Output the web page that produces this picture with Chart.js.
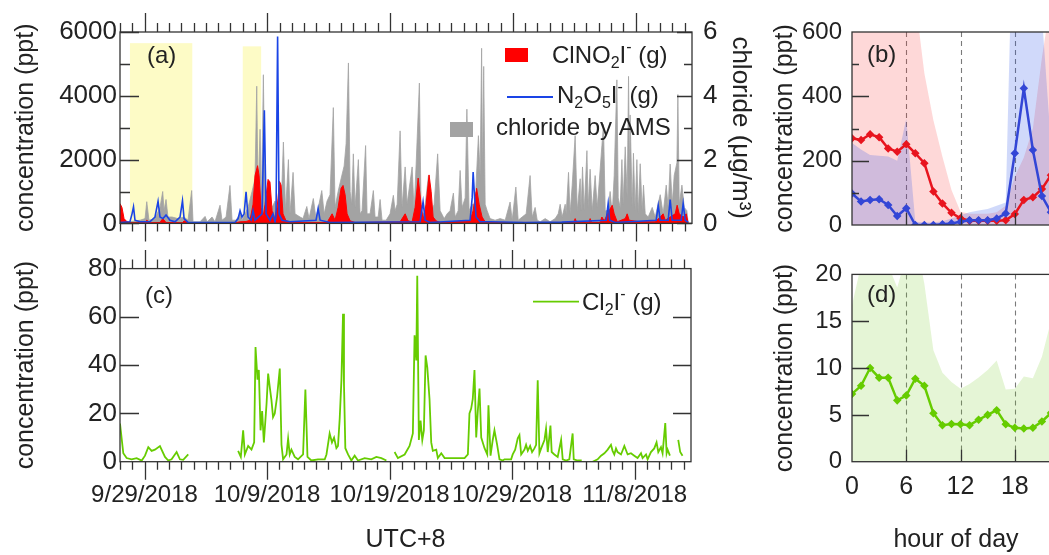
<!DOCTYPE html>
<html><head><meta charset="utf-8">
<script src="https://cdn.jsdelivr.net/npm/chart.js@4.4.1/dist/chart.umd.min.js"></script>
<style>
html,body{margin:0;padding:0;background:#fff;overflow:hidden;width:1049px;height:555px;position:relative}
canvas{position:absolute;display:block}
</style></head><body>
<canvas id="ca" width="760" height="250" style="left:0;top:0"></canvas>
<canvas id="cb" width="340" height="250" style="left:760px;top:0"></canvas>
<canvas id="cc" width="760" height="305" style="left:0;top:250px"></canvas>
<canvas id="cd" width="340" height="305" style="left:760px;top:250px"></canvas>
<script>
// ---------- DATA (x in days since 9/27/2018 00:00, UTC+8) ----------
const tickDays  = [2, 12, 22, 32, 42];
const tickDates = ['9/29/2018','10/9/2018','10/19/2018','10/29/2018','11/8/2018'];
const yellowStart = [0.81, 10.0];
const yellowEnd   = [5.89, 11.5];
const yellowTop   = [5650, 5550];

const chlorideDays = [0.00,0.81,1.63,2.04,2.18,2.36,2.85,3.26,3.48,3.59,3.75,3.91,4.24,4.73,5.22,5.54,5.84,5.95,6.52,6.93,7.10,7.50,7.74,8.15,8.31,8.64,8.96,9.13,9.45,9.78,9.94,10.43,10.76,11.00,11.14,11.25,11.41,11.53,11.68,11.82,12.06,12.39,12.63,12.88,13.12,13.31,13.49,13.72,13.85,14.10,14.26,14.67,14.91,15.22,15.40,15.75,15.97,16.44,16.63,16.87,17.11,17.38,17.52,17.77,18.01,18.26,18.42,18.61,18.75,18.87,19.01,19.15,19.42,19.56,19.72,20.01,20.13,20.37,20.64,20.78,21.03,21.19,21.35,21.68,22.00,22.27,22.41,22.58,22.82,22.98,23.23,23.39,23.63,23.80,23.96,24.12,24.39,24.53,24.78,25.13,25.35,25.59,25.88,26.08,26.41,26.65,26.89,27.16,27.30,27.55,27.71,27.87,28.12,28.26,28.44,28.69,28.93,29.20,29.34,29.46,29.54,29.63,29.75,29.91,30.15,30.56,30.97,31.38,31.78,31.95,32.25,32.44,32.76,33.09,33.41,33.58,33.82,33.99,34.23,34.64,35.04,35.45,35.70,35.86,36.02,36.27,36.35,36.54,36.67,36.84,37.08,37.25,37.49,37.57,37.68,37.82,38.04,38.14,38.30,38.47,38.71,38.88,39.04,39.26,39.39,39.53,39.77,39.93,40.10,40.26,40.48,40.59,40.75,40.89,40.99,41.16,41.32,41.43,41.52,41.56,41.73,41.83,41.97,42.11,42.22,42.38,42.54,42.65,42.79,43.03,43.36,43.60,44.01,44.25,44.50,44.66,44.82,44.99,45.15,45.37,45.45,45.56,45.78,45.97,46.18,46.29];
const chlorideVals = [0.10,0.05,0.10,0.15,0.68,0.10,0.15,0.50,1.00,0.40,0.75,0.20,0.20,0.15,0.20,0.10,1.03,0.05,0.05,0.22,0.05,0.20,0.05,0.57,0.10,0.20,1.19,0.10,0.10,0.30,0.10,0.50,1.00,1.40,4.30,0.80,2.95,0.70,4.66,0.50,0.30,0.50,0.70,0.30,0.40,2.55,0.40,2.00,0.30,1.60,0.30,0.20,0.15,0.53,0.15,0.78,0.15,1.03,0.30,0.70,0.90,3.63,0.50,1.00,1.40,1.80,2.50,5.03,1.00,0.60,2.18,0.50,2.00,0.30,0.40,2.44,0.30,0.30,1.03,0.20,0.20,0.75,0.10,0.10,0.30,0.88,0.40,0.60,2.90,0.50,1.77,0.60,1.30,1.77,0.40,1.80,4.40,0.40,0.30,1.50,0.30,0.60,2.18,0.40,0.15,0.30,0.40,0.95,0.20,0.40,1.66,0.50,0.80,3.58,0.40,0.60,0.60,2.75,1.50,5.49,1.50,4.92,0.60,0.40,0.15,0.10,0.15,0.10,0.67,0.10,1.14,0.10,0.20,0.30,1.50,0.20,0.50,0.10,0.05,0.15,0.05,0.15,0.30,0.60,0.20,0.60,0.30,1.60,0.30,1.20,2.75,0.40,1.40,0.40,1.77,0.40,2.28,0.50,1.70,0.40,1.50,0.50,1.30,2.44,3.10,0.40,0.40,1.00,0.30,1.50,4.50,0.80,0.50,2.00,0.60,2.40,0.80,4.61,1.40,3.40,0.50,2.20,0.40,2.00,0.30,1.87,0.40,1.20,0.30,0.20,0.50,0.20,0.90,0.30,1.20,0.50,1.86,0.60,1.50,1.90,4.04,0.60,1.20,0.50,0.40,0.00];

const clno2Days = [0.00,0.16,0.33,0.57,0.81,2.04,2.18,2.44,3.26,3.48,3.75,5.09,5.22,5.54,9.37,9.78,10.27,10.59,10.84,11.00,11.21,11.33,11.49,11.65,11.82,12.06,12.22,12.39,12.55,12.80,13.00,13.12,13.28,13.53,14.10,16.87,17.28,17.52,17.77,18.01,18.17,18.34,18.50,18.75,19.15,22.82,23.23,23.47,23.80,24.04,24.29,24.53,24.69,24.94,25.18,25.35,25.51,25.75,26.08,28.52,28.77,29.01,29.05,29.26,29.50,29.75,30.15,36.95,37.08,37.22,38.18,38.30,38.44,39.10,39.26,39.45,39.85,40.10,40.26,40.51,41.16,41.32,41.48,42.38,43.60,44.01,44.25,44.42,45.23,45.39,45.56,45.88,46.13,46.29];
const clno2Vals = [620,500,150,50,20,20,100,20,30,150,30,20,80,20,20,50,60,100,600,1500,1810,1500,500,200,600,1380,1300,400,100,500,1315,1200,300,80,30,30,300,100,500,1100,1190,900,300,80,30,50,300,80,50,500,1420,600,100,600,1520,1000,200,80,30,80,400,1000,1100,600,200,50,30,30,150,30,30,150,30,30,200,80,400,570,300,50,150,300,100,50,50,200,300,100,300,570,300,200,300,0];

const n2o5Days = [0.00,0.81,0.98,1.10,1.22,1.63,2.44,2.85,3.10,3.26,3.50,3.75,4.07,4.48,4.89,5.09,5.22,5.54,9.37,9.62,9.78,9.94,10.11,10.27,10.43,10.68,10.84,11.00,11.57,11.76,11.90,12.22,12.47,12.63,12.71,12.84,12.96,13.20,13.85,15.97,16.14,16.30,17.11,24.45,24.69,24.86,25.26,28.52,28.69,28.77,28.89,29.01,29.34,30.15,33.00,36.00,39.61,39.77,39.89,40.34,43.68,43.85,44.01,44.66,44.82,44.99,45.72,45.88,46.05,46.29];
const n2o5Vals = [30,50,300,520,100,50,50,200,690,200,150,260,100,50,200,710,150,30,30,150,400,200,300,990,200,100,400,100,300,3550,300,100,300,50,200,5860,300,100,50,100,460,100,30,50,680,100,30,100,800,1610,800,200,50,50,30,40,100,620,100,30,100,560,100,100,750,100,100,620,100,30];

const cl2Days = [0.00,0.27,0.54,0.95,1.36,1.77,2.04,2.31,2.58,2.85,3.26,3.67,3.94,4.21,4.62,4.89,5.16,5.57,7.00,9.64,9.86,10.05,10.19,10.46,10.73,10.95,11.06,11.22,11.33,11.47,11.60,11.74,11.96,12.09,12.22,12.36,12.49,12.63,12.82,13.04,13.18,13.31,13.59,13.72,13.85,13.99,14.26,14.53,14.94,15.13,15.30,15.62,16.16,16.71,16.85,17.11,17.30,17.47,17.66,17.79,17.93,18.07,18.20,18.28,18.39,18.61,18.88,19.15,19.42,19.97,20.51,20.92,21.33,21.74,22.00,22.41,22.68,23.23,23.63,23.90,24.04,24.18,24.26,24.39,24.53,24.67,24.80,24.94,25.08,25.26,25.40,25.53,25.81,25.94,26.22,26.49,27.30,28.12,28.39,28.52,28.66,28.79,28.93,29.07,29.20,29.34,29.48,29.75,29.97,30.07,30.24,30.42,30.56,30.78,30.97,31.24,31.38,31.92,32.05,32.25,32.46,32.60,32.74,33.01,33.14,33.28,33.47,33.63,33.82,33.96,34.09,34.23,34.37,34.64,34.77,34.91,35.13,35.23,35.45,35.72,36.00,36.13,36.41,36.67,36.94,37.03,37.35,37.68,38.10,38.57,38.98,39.26,39.53,39.80,40.07,40.20,40.34,40.48,40.61,40.89,41.16,41.43,41.70,41.97,42.24,42.52,42.65,42.93,43.06,43.33,43.60,43.79,43.93,44.15,44.28,44.50,44.61,44.69,44.88,45.20,45.56,45.72,45.91];
const cl2Vals = [15.8,3.5,1.5,1.0,1.5,0.5,2.5,6,4.5,5,6.5,2,0.5,1,4,1,0.8,3,null,4.5,2,13,3,6.5,5,8,47.5,34,38,13,21,8,24,36.5,31,25.5,18.5,20,27,38.6,7,1,3,9.5,3,5,2,1,3,29.9,2,0.5,1,1,3,11.7,8,10,5.6,6.5,17.9,33.7,61.3,32,5.6,3,0.5,2.5,0.5,1.5,1,2,1.5,0.5,null,4,1.5,3,6.5,11.7,52.4,42,77,9,17,9,13,44,39,26,8,4.5,5,1.5,3.5,1.5,1.5,1.5,3,20,22,26,38,10,21,30.3,10,5.6,3,23.4,2.5,9,13,7,1,0.5,1,1,3,5,9.7,11,3,5,7,4.5,6.5,4,5.5,7,33.7,3.5,5.5,9,13.7,4,15,4,3,2,9,1,0.5,1,11.7,1,0.5,0.5,null,0,1,2.5,3.5,5,7,4.5,3,5.5,4,3,6.5,3,3.5,2.5,1.5,3.5,1.5,3,1,4,5.5,8,4,6,3.5,16,3.5,5,2.5,null,9,4,2.5];

// diurnal (hour of day 0..23)
const hours = [0,1,2,3,4,5,6,7,8,9,10,11,12,13,14,15,16,17,18,19,20,21,22,23];
const clno2Diurnal = [270,264,282,273,238,228,251,223,192,104,67,38,21,13,13,13,13,15,34,78,86,112,155,210];
const clno2Upper   = [700,700,700,700,700,700,700,700,472,326,212,109,41,35,35,35,40,60,150,210,300,520,700,700];
const n2o5Diurnal  = [98,73,78,80,62,28,52,0,0,0,2,5,10,15,15,15,20,36,223,425,233,90,40,60];
const n2o5Upper    = [255,235,218,215,213,200,330,10,8,8,12,20,30,40,45,50,60,70,1200,900,800,650,250,200];
const cl2Diurnal   = [7.24,8.1,10.0,8.97,8.97,6.55,7.07,8.86,8.1,5.17,3.9,4.03,4.0,3.9,4.48,5.0,5.5,4.0,3.62,3.55,3.62,4.3,5.2,6.0];
const cl2Upper     = [16.7,21,24,24,21,18.6,22,24,19,11.9,9.5,8.5,7.8,8.3,9.0,9.8,10.8,7.7,7.8,9.1,8.9,11.2,15,18];
const dashHours = [6, 12, 18];
const hourTicks = [0, 6, 12, 18];

// ---------- STYLE ----------
const FAM = "'Liberation Sans', Arial, Helvetica, sans-serif";
const TXT = '#222';
const AXIS = '#333';
Chart.defaults.font.family = FAM;
Chart.defaults.color = TXT;
const zip = (xs, ys) => xs.map((x, i) => ({x, y: ys[i]}));
const days = Array.from({length: 47}, (_, i) => i);

function richText(ctx, x, y, parts, size) {
  ctx.fillStyle = TXT; ctx.textBaseline = 'alphabetic'; ctx.textAlign = 'left';
  for (const [t, k] of parts) {
    const fs = k === 'n' ? size : Math.round(size * 0.66);
    ctx.font = fs + 'px ' + FAM;
    const dy = k === 'sub' ? size * 0.22 : (k === 'sup' ? -size * 0.45 : 0);
    ctx.fillText(t, x, y + dy);
    x += ctx.measureText(t).width;
  }
}
function label(ctx, t, x, y) {
  ctx.fillStyle = TXT; ctx.font = '24px ' + FAM; ctx.textAlign = 'left'; ctx.textBaseline = 'alphabetic';
  ctx.fillText(t, x, y);
}
function frameTicks(chart, spec) {
  const {ctx, chartArea: a} = chart;
  ctx.save();
  ctx.strokeStyle = AXIS; ctx.lineWidth = 1.3;
  ctx.beginPath();
  for (const t of spec.x || []) {
    const sc = chart.scales.x;
    for (const v of t.vals) {
      const p = Math.round(sc.getPixelForValue(v)) + 0.5;
      const y0 = t.edge === 'top' ? a.top : a.bottom;
      const dir = (t.edge === 'top' ? -1 : 1) * (t.out ? 1 : -1);
      ctx.moveTo(p, y0); ctx.lineTo(p, y0 + dir * t.len);
    }
  }
  for (const t of spec.y || []) {
    const sc = chart.scales[t.id];
    for (const v of t.vals) {
      const p = Math.round(sc.getPixelForValue(v)) + 0.5;
      const x0 = t.edge === 'left' ? a.left : a.right;
      const dir = t.edge === 'left' ? 1 : -1;
      ctx.moveTo(x0, p); ctx.lineTo(x0 + dir * t.len, p);
    }
  }
  ctx.stroke();
  ctx.strokeRect(a.left, a.top, a.right - a.left, a.bottom - a.top);
  ctx.restore();
}
function dashed(chart) {
  const {ctx, chartArea: a} = chart;
  ctx.save();
  ctx.strokeStyle = '#7a7a7a'; ctx.lineWidth = 1.1; ctx.setLineDash([5, 4]);
  ctx.beginPath();
  for (const h of dashHours) {
    const p = Math.round(chart.scales.x.getPixelForValue(h)) + 0.5;
    ctx.moveTo(p, a.top); ctx.lineTo(p, a.bottom);
  }
  ctx.stroke(); ctx.restore();
}
const tickFont = {size: 24, family: FAM};
const yTickFont = {size: 26, family: FAM};
const titleFont = {size: 25, family: FAM};
const noGrid = {display: false, drawTicks: false};
const noBorder = {display: false};
const plain = v => String(v);
const base = {responsive: false, animation: false, events: [],
  plugins: {legend: {display: false}, tooltip: {enabled: false}}};

// ---------- (a) ----------
new Chart(document.getElementById('ca'), {
  type: 'line',
  data: {datasets: [
    {data: zip(n2o5Days, n2o5Vals), yAxisID: 'y', borderColor: '#1a44e6', borderWidth: 1.6, pointRadius: 0, fill: false, order: 1},
    {data: zip(clno2Days, clno2Vals), yAxisID: 'y', borderColor: '#ff0000', backgroundColor: '#ff0000', borderWidth: 1, pointRadius: 0, fill: 'origin', order: 2},
    {data: zip(chlorideDays, chlorideVals), yAxisID: 'y2', borderColor: '#a3a3a3', backgroundColor: '#a3a3a3', borderWidth: 0.8, pointRadius: 0, fill: 'origin', order: 3}
  ]},
  options: {...base,
    layout: {padding: {top: 32, bottom: 25, left: 0, right: 0}},
    scales: {
      x: {type: 'linear', min: 0, max: 46.6, display: false},
      y: {type: 'linear', position: 'left', min: 0, max: 6000, afterFit: s => { s.width = 120; },
          grid: noGrid, border: noBorder,
          ticks: {stepSize: 2000, padding: 3, font: yTickFont, color: TXT, callback: plain},
          title: {display: true, text: 'concentration (ppt)', font: titleFont, color: TXT, padding: {top: 11, bottom: 0}}},
      y2: {type: 'linear', position: 'right', min: 0, max: 6, afterFit: s => { s.width = 68; },
          grid: noGrid, border: noBorder,
          ticks: {stepSize: 2, padding: 11, font: yTickFont, color: TXT, callback: plain},
          title: {display: true, text: 'chloride (μg/m³)', font: {size: 26, family: FAM}, color: TXT, padding: {top: 4, bottom: 0}}}
    }
  },
  plugins: [{
    id: 'pa',
    beforeDatasetsDraw(chart) {
      const {ctx, chartArea: a, scales} = chart;
      ctx.save(); ctx.fillStyle = '#fdfbc6';
      yellowStart.forEach((s, i) => {
        const x0 = scales.x.getPixelForValue(s), x1 = scales.x.getPixelForValue(yellowEnd[i]);
        const yt = scales.y.getPixelForValue(yellowTop[i]);
        ctx.fillRect(x0, yt, x1 - x0, a.bottom - yt);
      });
      ctx.restore();
    },
    afterDraw(chart) {
      const ctx = chart.ctx;
      frameTicks(chart, {
        x: [{vals: days, len: 9, edge: 'top', out: true}, {vals: tickDays, len: 19, edge: 'top', out: true},
            {vals: days, len: 8, edge: 'bottom', out: true}, {vals: tickDays, len: 18, edge: 'bottom', out: true}],
        y: [{id: 'y', vals: [0, 2000, 4000, 6000], len: 19, edge: 'left'}, {id: 'y', vals: [1000, 3000, 5000], len: 10, edge: 'left'},
            {id: 'y2', vals: [0, 2, 4, 6], len: 15, edge: 'right'}, {id: 'y2', vals: [1, 3, 5], len: 8, edge: 'right'}]
      });
      label(ctx, '(a)', 147, 63);
      ctx.save();
      ctx.fillStyle = '#ff0000'; ctx.fillRect(505, 48, 23, 14);
      ctx.strokeStyle = '#1a44e6'; ctx.lineWidth = 1.8; ctx.beginPath(); ctx.moveTo(507, 97); ctx.lineTo(553, 97); ctx.stroke();
      ctx.fillStyle = '#a3a3a3'; ctx.fillRect(450, 122, 23, 15);
      ctx.restore();
      richText(ctx, 552, 63, [['ClNO', 'n'], ['2', 'sub'], ['I', 'n'], ['-', 'sup'], [' (g)', 'n']], 24);
      richText(ctx, 557, 103, [['N', 'n'], ['2', 'sub'], ['O', 'n'], ['5', 'sub'], ['I', 'n'], ['-', 'sup'], [' (g)', 'n']], 24);
      richText(ctx, 496, 135, [['chloride by AMS', 'n']], 24);
    }
  }]
});

// ---------- (b) ----------
new Chart(document.getElementById('cb'), {
  type: 'line',
  data: {datasets: [
    {data: zip(hours, n2o5Diurnal), borderColor: '#3346d6', backgroundColor: '#3346d6', borderWidth: 2.5, pointStyle: 'rectRot', pointRadius: 2.5, fill: false, order: 1},
    {data: zip(hours, clno2Diurnal), borderColor: '#e8141e', backgroundColor: '#e8141e', borderWidth: 2.5, pointStyle: 'rectRot', pointRadius: 2.5, fill: false, order: 2},
    {data: zip(hours, n2o5Upper), borderWidth: 0, pointRadius: 0, backgroundColor: 'rgba(40,80,230,0.22)', fill: 'origin', order: 3},
    {data: zip(hours, clno2Upper), borderWidth: 0, pointRadius: 0, backgroundColor: 'rgba(250,40,40,0.18)', fill: 'origin', order: 4}
  ]},
  options: {...base,
    layout: {padding: {top: 32, bottom: 25, left: 0, right: 40}},
    scales: {
      x: {type: 'linear', min: 0, max: 23, display: false},
      y: {type: 'linear', position: 'left', min: 0, max: 600, afterFit: s => { s.width = 92; },
          grid: noGrid, border: noBorder,
          ticks: {stepSize: 200, padding: 10, font: tickFont, color: TXT, callback: plain},
          title: {display: true, text: 'concentration (ppt)', font: titleFont, color: TXT, padding: {top: 10, bottom: 0}}}
    }
  },
  plugins: [{
    id: 'pb',
    beforeDatasetsDraw(chart) { dashed(chart); },
    afterDraw(chart) {
      frameTicks(chart, {
        x: [{vals: dashHours, len: 12, edge: 'bottom', out: false}],
        y: [{id: 'y', vals: [200, 400], len: 17, edge: 'left'}, {id: 'y', vals: [100, 300, 500], len: 7, edge: 'left'}]
      });
      label(chart.ctx, '(b)', 107, 62);
    }
  }]
});

// ---------- (c) ----------
new Chart(document.getElementById('cc'), {
  type: 'line',
  data: {datasets: [
    {data: zip(cl2Days, cl2Vals), borderColor: '#66cc00', borderWidth: 1.8, pointRadius: 0, fill: false, spanGaps: false}
  ]},
  options: {...base,
    layout: {padding: {top: 18.3, bottom: 0, left: 0, right: 69}},
    scales: {
      x: {type: 'linear', position: 'bottom', min: 0, max: 46.6, afterFit: s => { s.height = 93.3; },
          afterBuildTicks: s => { s.ticks = tickDays.map(v => ({value: v})); },
          grid: noGrid, border: noBorder,
          ticks: {padding: 19, font: tickFont, color: TXT, autoSkip: false, maxRotation: 0, minRotation: 0,
                  callback: v => tickDates[tickDays.indexOf(v)]},
          title: {display: true, text: 'UTC+8', font: titleFont, color: TXT, padding: {top: 0, bottom: 0}}},
      y: {type: 'linear', position: 'left', min: 0, max: 80, afterFit: s => { s.width = 120; },
          grid: noGrid, border: noBorder,
          ticks: {stepSize: 20, padding: 3, font: yTickFont, color: TXT, callback: plain},
          title: {display: true, text: 'concentration (ppt)', font: titleFont, color: TXT, padding: {top: 11, bottom: 0}}}
    }
  },
  plugins: [{
    id: 'pc',
    afterDraw(chart) {
      const ctx = chart.ctx;
      frameTicks(chart, {
        x: [{vals: days, len: 9, edge: 'top', out: true}, {vals: tickDays, len: 19, edge: 'top', out: true},
            {vals: days, len: 8, edge: 'bottom', out: true}, {vals: tickDays, len: 18, edge: 'bottom', out: true}],
        y: [{id: 'y', vals: [20, 40, 60], len: 19, edge: 'left'}, {id: 'y', vals: [20, 40, 60], len: 18, edge: 'right'}]
      });
      label(ctx, '(c)', 145, 53);
      ctx.save(); ctx.strokeStyle = '#66cc00'; ctx.lineWidth = 1.8;
      ctx.beginPath(); ctx.moveTo(533, 51.7); ctx.lineTo(579, 51.7); ctx.stroke(); ctx.restore();
      richText(ctx, 582, 59.5, [['Cl', 'n'], ['2', 'sub'], ['I', 'n'], ['-', 'sup'], [' (g)', 'n']], 24);
    }
  }]
});

// ---------- (d) ----------
new Chart(document.getElementById('cd'), {
  type: 'line',
  data: {datasets: [
    {data: zip(hours, cl2Diurnal), borderColor: '#66cc00', backgroundColor: '#66cc00', borderWidth: 2.5, pointStyle: 'rectRot', pointRadius: 2.5, fill: false, order: 1},
    {data: zip(hours, cl2Upper), borderWidth: 0, pointRadius: 0, backgroundColor: 'rgba(110,200,30,0.18)', fill: 'origin', order: 2}
  ]},
  options: {...base,
    layout: {padding: {top: 18.3, bottom: 0, left: 0, right: 40}},
    scales: {
      x: {type: 'linear', position: 'bottom', min: 0, max: 23, afterFit: s => { s.height = 93.3; },
          afterBuildTicks: s => { s.ticks = hourTicks.map(v => ({value: v})); },
          grid: noGrid, border: noBorder,
          ticks: {padding: 10, font: {size: 25, family: FAM}, color: TXT, autoSkip: false, maxRotation: 0, minRotation: 0, callback: plain},
          title: {display: true, text: 'hour of day', font: titleFont, color: TXT, padding: {top: 0, bottom: 0}}},
      y: {type: 'linear', position: 'left', min: 0, max: 20, afterFit: s => { s.width = 92; },
          grid: noGrid, border: noBorder,
          ticks: {stepSize: 5, padding: 10, font: tickFont, color: TXT, callback: plain},
          title: {display: true, text: 'concentration (ppt)', font: titleFont, color: TXT, padding: {top: 10, bottom: 0}}}
    }
  },
  plugins: [{
    id: 'pd',
    beforeDatasetsDraw(chart) { dashed(chart); },
    afterDraw(chart) {
      frameTicks(chart, {
        x: [{vals: dashHours, len: 12, edge: 'bottom', out: false}],
        y: [{id: 'y', vals: [5, 10, 15], len: 17, edge: 'left'}]
      });
      label(chart.ctx, '(d)', 107, 52);
    }
  }]
});
</script>
</body></html>
